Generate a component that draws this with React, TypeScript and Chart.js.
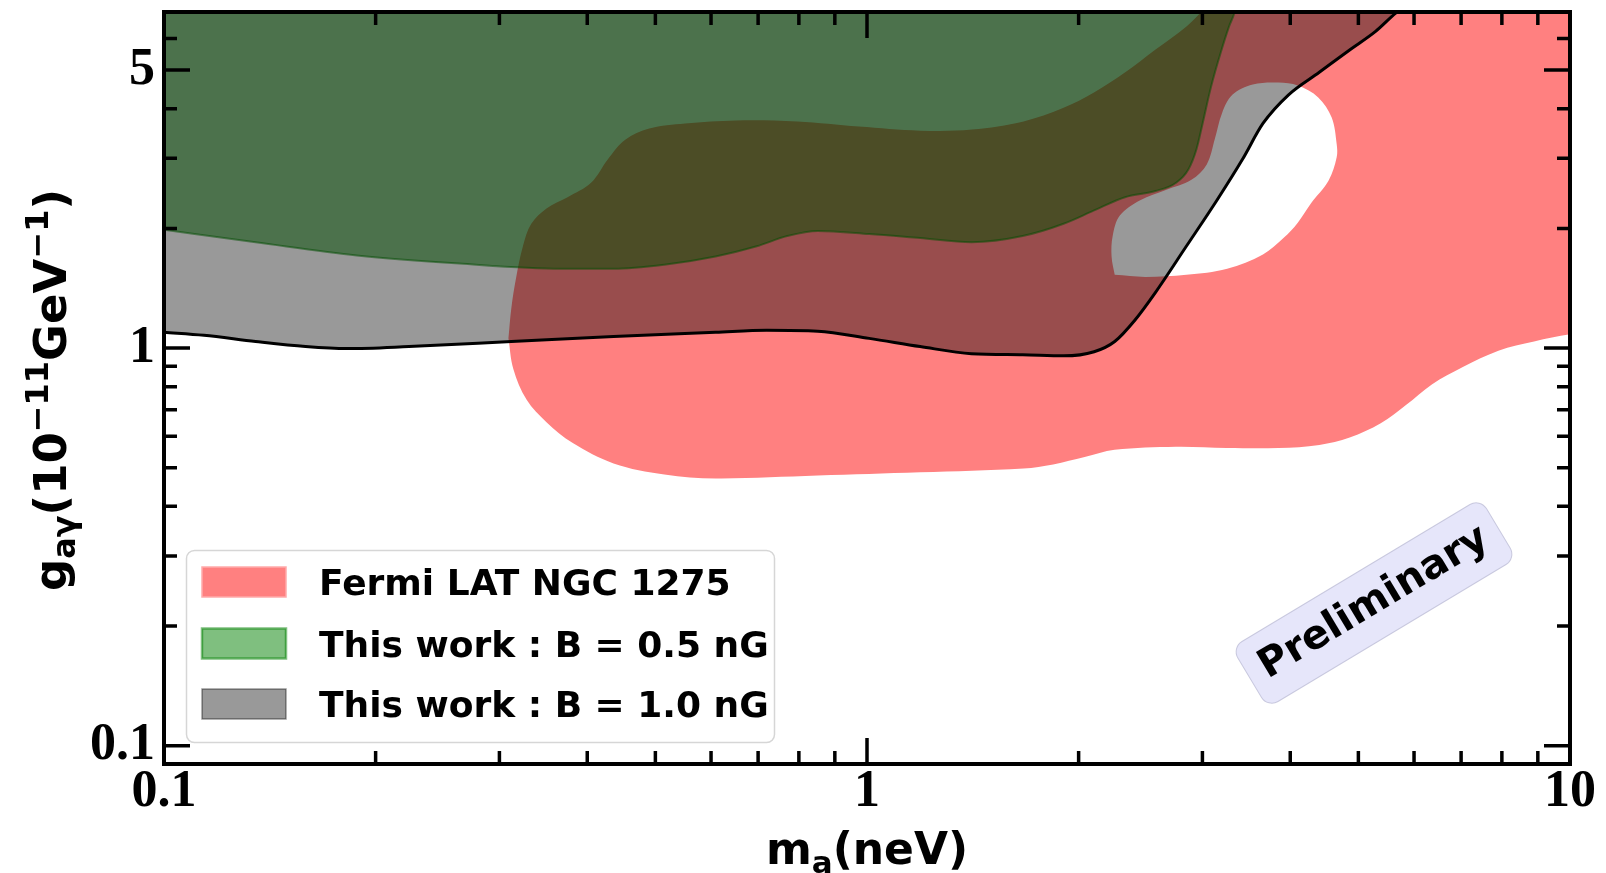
import { useEffect, useRef } from 'react';
import { Chart, registerables } from 'chart.js';

Chart.register(...registerables);

const WIDTH = 1606;
const HEIGHT = 873;

// Axion mass m_a in neV, coupling g_agamma in units of 1e-11 GeV^-1.

// Fermi-LAT NGC 1275 excluded region: closed outer contour.
const fermiMass = [
  0.309, 0.312, 0.317, 0.324, 0.333, 0.35, 0.375, 0.405, 0.428, 0.453, 0.49, 0.551, 0.651, 0.796, 0.974,
  1.19, 1.41, 1.67, 1.9, 2.1, 2.33, 2.57, 2.85, 3.04, 3.15, 10.34, 10.34, 10.0, 8.89, 7.91, 7.04, 6.36,
  5.85, 5.38, 4.86, 4.4, 3.85, 3.25, 2.75, 2.25, 2.04, 1.84, 1.67, 1.19, 0.851, 0.609, 0.515, 0.436,
  0.381, 0.35, 0.328, 0.314, 0.309,
];
const fermiCoupling = [
  1.058, 1.264, 1.51, 1.803, 2.054, 2.245, 2.396, 2.604, 2.984, 3.339, 3.565, 3.671, 3.737, 3.715, 3.607,
  3.522, 3.543, 3.715, 4.013, 4.385, 4.937, 5.626, 6.448, 7.258, 7.93, 7.93, 1.083, 1.083, 1.039, 0.985,
  0.896, 0.81, 0.72, 0.647, 0.596, 0.571, 0.561, 0.561, 0.565, 0.555, 0.532, 0.51, 0.498, 0.487, 0.478,
  0.47, 0.481, 0.513, 0.578, 0.651, 0.741, 0.886, 1.058,
];

// Allowed island inside the Fermi-LAT contour.
const holeMass = [
  2.251, 2.228, 2.236, 2.289, 2.447, 2.661, 2.894, 3.043, 3.125, 3.199, 3.309, 3.538, 3.847, 4.1, 4.384,
  4.58, 4.657, 4.657, 4.534, 4.282, 4.1, 3.912, 3.658, 3.253, 2.846, 2.488, 2.251,
];
const holeCoupling = [
  1.528, 1.7, 1.913, 2.154, 2.354, 2.498, 2.651, 2.897, 3.359, 3.896, 4.334, 4.599, 4.654, 4.572, 4.27,
  3.804, 3.261, 3.019, 2.635, 2.313, 2.067, 1.891, 1.72, 1.583, 1.528, 1.51, 1.528,
];

// This work, B = 0.5 nG: lower edge of the excluded band.
const b05Mass = [
  0.1, 0.135, 0.188, 0.263, 0.368, 0.436, 0.515, 0.609, 0.697, 0.77, 0.851, 1.007, 1.19, 1.408, 1.665,
  1.904, 2.104, 2.328, 2.573, 2.752, 2.865, 2.943, 3.002, 3.084, 3.188, 3.275, 3.331, 3.387,
];
const b05Coupling = [
  1.983, 1.846, 1.71, 1.631, 1.583, 1.583, 1.621, 1.7, 1.803, 1.913, 1.971, 1.936, 1.891, 1.846, 1.913,
  2.054, 2.219, 2.396, 2.483, 2.604, 2.812, 3.167, 3.671, 4.518, 5.559, 6.448, 6.963, 7.93,
];

// This work, B = 1.0 nG: lower edge of the excluded band.
const b10Mass = [
  0.1, 0.114, 0.135, 0.159, 0.182, 0.223, 0.312, 0.436, 0.609, 0.72, 0.851, 1.007, 1.19, 1.408, 1.665,
  1.904, 2.104, 2.251, 2.406, 2.573, 2.846, 3.146, 3.421, 3.658, 3.978, 4.399, 4.864, 5.29, 5.657, 5.948,
];
const b10Coupling = [
  1.096, 1.077, 1.039, 1.009, 0.997, 1.009, 1.039, 1.07, 1.096, 1.109, 1.103, 1.058, 1.009, 0.968, 0.962,
  0.956, 0.979, 1.039, 1.177, 1.381, 1.803, 2.354, 2.984, 3.671, 4.334, 4.937, 5.626, 6.256, 6.963, 7.39,
];

// Axis ticks
const xTickValues = [0.1, 0.2, 0.3, 0.4, 0.5, 0.6, 0.7, 0.8, 0.9, 1, 2, 3, 4, 5, 6, 7, 8, 9, 10];
const yTickValues = [0.1, 0.2, 0.3, 0.4, 0.5, 0.6, 0.7, 0.8, 0.9, 1, 2, 3, 4, 5, 6];
const xMajorTicks = [0.1, 1, 10];
const xMajorLabels = ['0.1', '1', '10'];
const yMajorTicks = [0.1, 1, 5];
const yMajorLabels = ['0.1', '1', '5'];

// Legend
const legendLabels = ['Fermi LAT NGC 1275', 'This work : B = 0.5 nG', 'This work : B = 1.0 nG'];
const legendFills = ['#ff8080', 'rgba(0,128,0,0.5)', 'rgba(0,0,0,0.4)'];
const legendEdges = ['rgba(255,170,170,1)', 'rgba(0,128,0,0.5)', 'rgba(0,0,0,0.4)'];

const stampText = 'Preliminary';

const SANS = '"DejaVu Sans", sans-serif';
const SERIF = '"Liberation Serif", serif';

const toPoints = (xs: number[], ys: number[]) => xs.map((x, i) => ({ x, y: ys[i] }));
const findMajor = (v: number, majors: number[]) =>
  majors.findIndex((m) => Math.abs(v - m) < 1e-6 * m);

type Run = { t: string; size: number; dy: number };

function drawRuns(ctx: CanvasRenderingContext2D, runs: Run[], cx: number, baseline: number) {
  let total = 0;
  const widths = runs.map((r) => {
    ctx.font = `bold ${r.size}px ${SANS}`;
    const w = ctx.measureText(r.t).width;
    total += w;
    return w;
  });
  let x = cx - total / 2;
  ctx.textAlign = 'left';
  ctx.textBaseline = 'alphabetic';
  runs.forEach((r, i) => {
    ctx.font = `bold ${r.size}px ${SANS}`;
    ctx.fillText(r.t, x, baseline + r.dy);
    x += widths[i];
  });
}

const decorations = {
  id: 'decorations',
  afterDatasetsDraw(chart: any) {
    const { ctx, chartArea: a, scales } = chart;
    const xs = scales.x;
    const ys = scales.y;
    ctx.save();

    // "Preliminary" stamp
    ctx.save();
    ctx.translate(1374, 603);
    ctx.rotate((-31 * Math.PI) / 180);
    ctx.beginPath();
    ctx.roundRect(-145, -35, 290, 70, 12);
    ctx.fillStyle = '#e6e6fa';
    ctx.fill();
    ctx.strokeStyle = 'rgba(190,190,215,0.8)';
    ctx.lineWidth = 1;
    ctx.stroke();
    ctx.fillStyle = '#000';
    ctx.font = `bold 40px ${SANS}`;
    ctx.textAlign = 'center';
    ctx.textBaseline = 'middle';
    ctx.fillText(stampText, 0, 0);
    ctx.restore();

    // Legend
    ctx.beginPath();
    ctx.roundRect(186.5, 550.5, 588, 192, 8);
    ctx.fillStyle = 'rgba(255,255,255,0.85)';
    ctx.fill();
    ctx.strokeStyle = '#d6d6d6';
    ctx.lineWidth = 1.5;
    ctx.stroke();
    const rowCenters = [582, 643.5, 704];
    legendLabels.forEach((label, i) => {
      const cy = rowCenters[i];
      ctx.fillStyle = '#fff';
      ctx.fillRect(202, cy - 15, 84, 30);
      ctx.fillStyle = legendFills[i];
      ctx.fillRect(202, cy - 15, 84, 30);
      ctx.strokeStyle = legendEdges[i];
      ctx.lineWidth = i === 1 ? 2.5 : 1.5;
      ctx.strokeRect(202, cy - 15, 84, 30);
      ctx.fillStyle = '#000';
      ctx.font = `bold 36px ${SANS}`;
      ctx.textAlign = 'left';
      ctx.textBaseline = 'alphabetic';
      ctx.fillText(label, 319, cy + 13);
    });

    // Inward tick marks on all four sides
    ctx.strokeStyle = '#000';
    ctx.lineWidth = 3.5;
    ctx.lineCap = 'butt';
    ctx.beginPath();
    xs.ticks.forEach((t: any) => {
      const px = xs.getPixelForValue(t.value);
      const len = findMajor(t.value, xMajorTicks) >= 0 ? 26 : 13;
      ctx.moveTo(px, a.bottom);
      ctx.lineTo(px, a.bottom - len);
      ctx.moveTo(px, a.top);
      ctx.lineTo(px, a.top + len);
    });
    ys.ticks.forEach((t: any) => {
      const py = ys.getPixelForValue(t.value);
      const len = findMajor(t.value, yMajorTicks) >= 0 ? 26 : 13;
      ctx.moveTo(a.left, py);
      ctx.lineTo(a.left + len, py);
      ctx.moveTo(a.right, py);
      ctx.lineTo(a.right - len, py);
    });
    ctx.stroke();

    // Axes frame
    ctx.lineWidth = 4;
    ctx.strokeRect(a.left, a.top, a.right - a.left, a.bottom - a.top);

    // Axis titles
    ctx.fillStyle = '#000';
    drawRuns(
      ctx,
      [
        { t: 'm', size: 44, dy: 0 },
        { t: 'a', size: 31, dy: 9 },
        { t: '(neV)', size: 44, dy: 0 },
      ],
      (a.left + a.right) / 2,
      864,
    );
    ctx.save();
    ctx.translate(66, 390);
    ctx.rotate(-Math.PI / 2);
    drawRuns(
      ctx,
      [
        { t: 'g', size: 45, dy: 0 },
        { t: 'aγ', size: 32, dy: 9 },
        { t: '(10', size: 45, dy: 0 },
        { t: '−11', size: 32, dy: -18 },
        { t: 'GeV', size: 45, dy: 0 },
        { t: '−1', size: 32, dy: -18 },
        { t: ')', size: 45, dy: 0 },
      ],
      0,
      0,
    );
    ctx.restore();

    ctx.restore();
  },
};

export default function App() {
  const canvasRef = useRef<HTMLCanvasElement | null>(null);

  useEffect(() => {
    const canvas = canvasRef.current;
    if (!canvas) return;

    const chart = new Chart(canvas, {
      type: 'scatter',
      data: {
        datasets: [
          {
            label: 'This work : B = 1.0 nG',
            data: toPoints(b10Mass, b10Coupling),
            showLine: true,
            borderColor: '#000',
            borderWidth: 3,
            backgroundColor: 'rgba(0,0,0,0.4)',
            fill: 'end',
            cubicInterpolationMode: 'monotone',
            order: 1,
          },
          {
            label: 'This work : B = 0.5 nG',
            data: toPoints(b05Mass, b05Coupling),
            showLine: true,
            borderColor: 'rgba(0,128,0,0.5)',
            borderWidth: 2,
            backgroundColor: 'rgba(0,128,0,0.5)',
            fill: 'end',
            cubicInterpolationMode: 'monotone',
            order: 2,
          },
          {
            label: 'allowed island',
            data: toPoints(holeMass, holeCoupling),
            showLine: true,
            borderColor: 'rgba(0,0,0,0)',
            borderWidth: 1,
            backgroundColor: '#ffffff',
            fill: 'shape',
            tension: 0.35,
            order: 3,
          },
          {
            label: 'Fermi LAT NGC 1275',
            data: toPoints(fermiMass, fermiCoupling),
            showLine: true,
            borderColor: 'rgba(0,0,0,0)',
            borderWidth: 1,
            backgroundColor: '#ff8080',
            fill: 'shape',
            tension: 0.35,
            order: 4,
          },
        ],
      },
      options: {
        animation: false,
        responsive: false,
        maintainAspectRatio: false,
        devicePixelRatio: 1,
        events: [],
        layout: { padding: { left: 0, top: 12, right: 36, bottom: 0 } },
        elements: {
          point: { radius: 0, hoverRadius: 0, hitRadius: 0 },
          line: { capBezierPoints: false },
        },
        plugins: {
          legend: { display: false },
          tooltip: { enabled: false },
          title: { display: false },
        },
        scales: {
          x: {
            type: 'logarithmic',
            min: 0.1,
            max: 10,
            grid: { display: false, drawTicks: false },
            border: { display: false },
            ticks: {
              autoSkip: false,
              maxRotation: 0,
              minRotation: 0,
              padding: -3,
              color: '#000',
              font: { family: SERIF, size: 52, weight: 'bold' },
              callback: (v: any) => {
                const i = findMajor(Number(v), xMajorTicks);
                return i >= 0 ? xMajorLabels[i] : '';
              },
            },
            afterBuildTicks: (axis: any) => {
              axis.ticks = xTickValues.map((value) => ({ value }));
            },
            afterFit: (axis: any) => {
              axis.height = HEIGHT - 764;
              axis.paddingLeft = 0;
              axis.paddingRight = 0;
            },
          },
          y: {
            type: 'logarithmic',
            min: 0.09,
            max: 7,
            grid: { display: false, drawTicks: false },
            border: { display: false },
            ticks: {
              autoSkip: false,
              padding: 9,
              color: '#000',
              font: { family: SERIF, size: 52, weight: 'bold' },
              callback: (v: any) => {
                const i = findMajor(Number(v), yMajorTicks);
                return i >= 0 ? yMajorLabels[i] : '';
              },
            },
            afterBuildTicks: (axis: any) => {
              axis.ticks = yTickValues.map((value) => ({ value }));
            },
            afterFit: (axis: any) => {
              axis.width = 164;
              axis.paddingTop = 0;
              axis.paddingBottom = 0;
            },
          },
        },
      } as any,
      plugins: [decorations],
    });

    return () => chart.destroy();
  }, []);

  return (
    <div style={{ position: 'absolute', left: 0, top: 0, width: WIDTH, height: HEIGHT, background: '#fff' }}>
      <canvas ref={canvasRef} width={WIDTH} height={HEIGHT} style={{ display: 'block' }} />
    </div>
  );
}
